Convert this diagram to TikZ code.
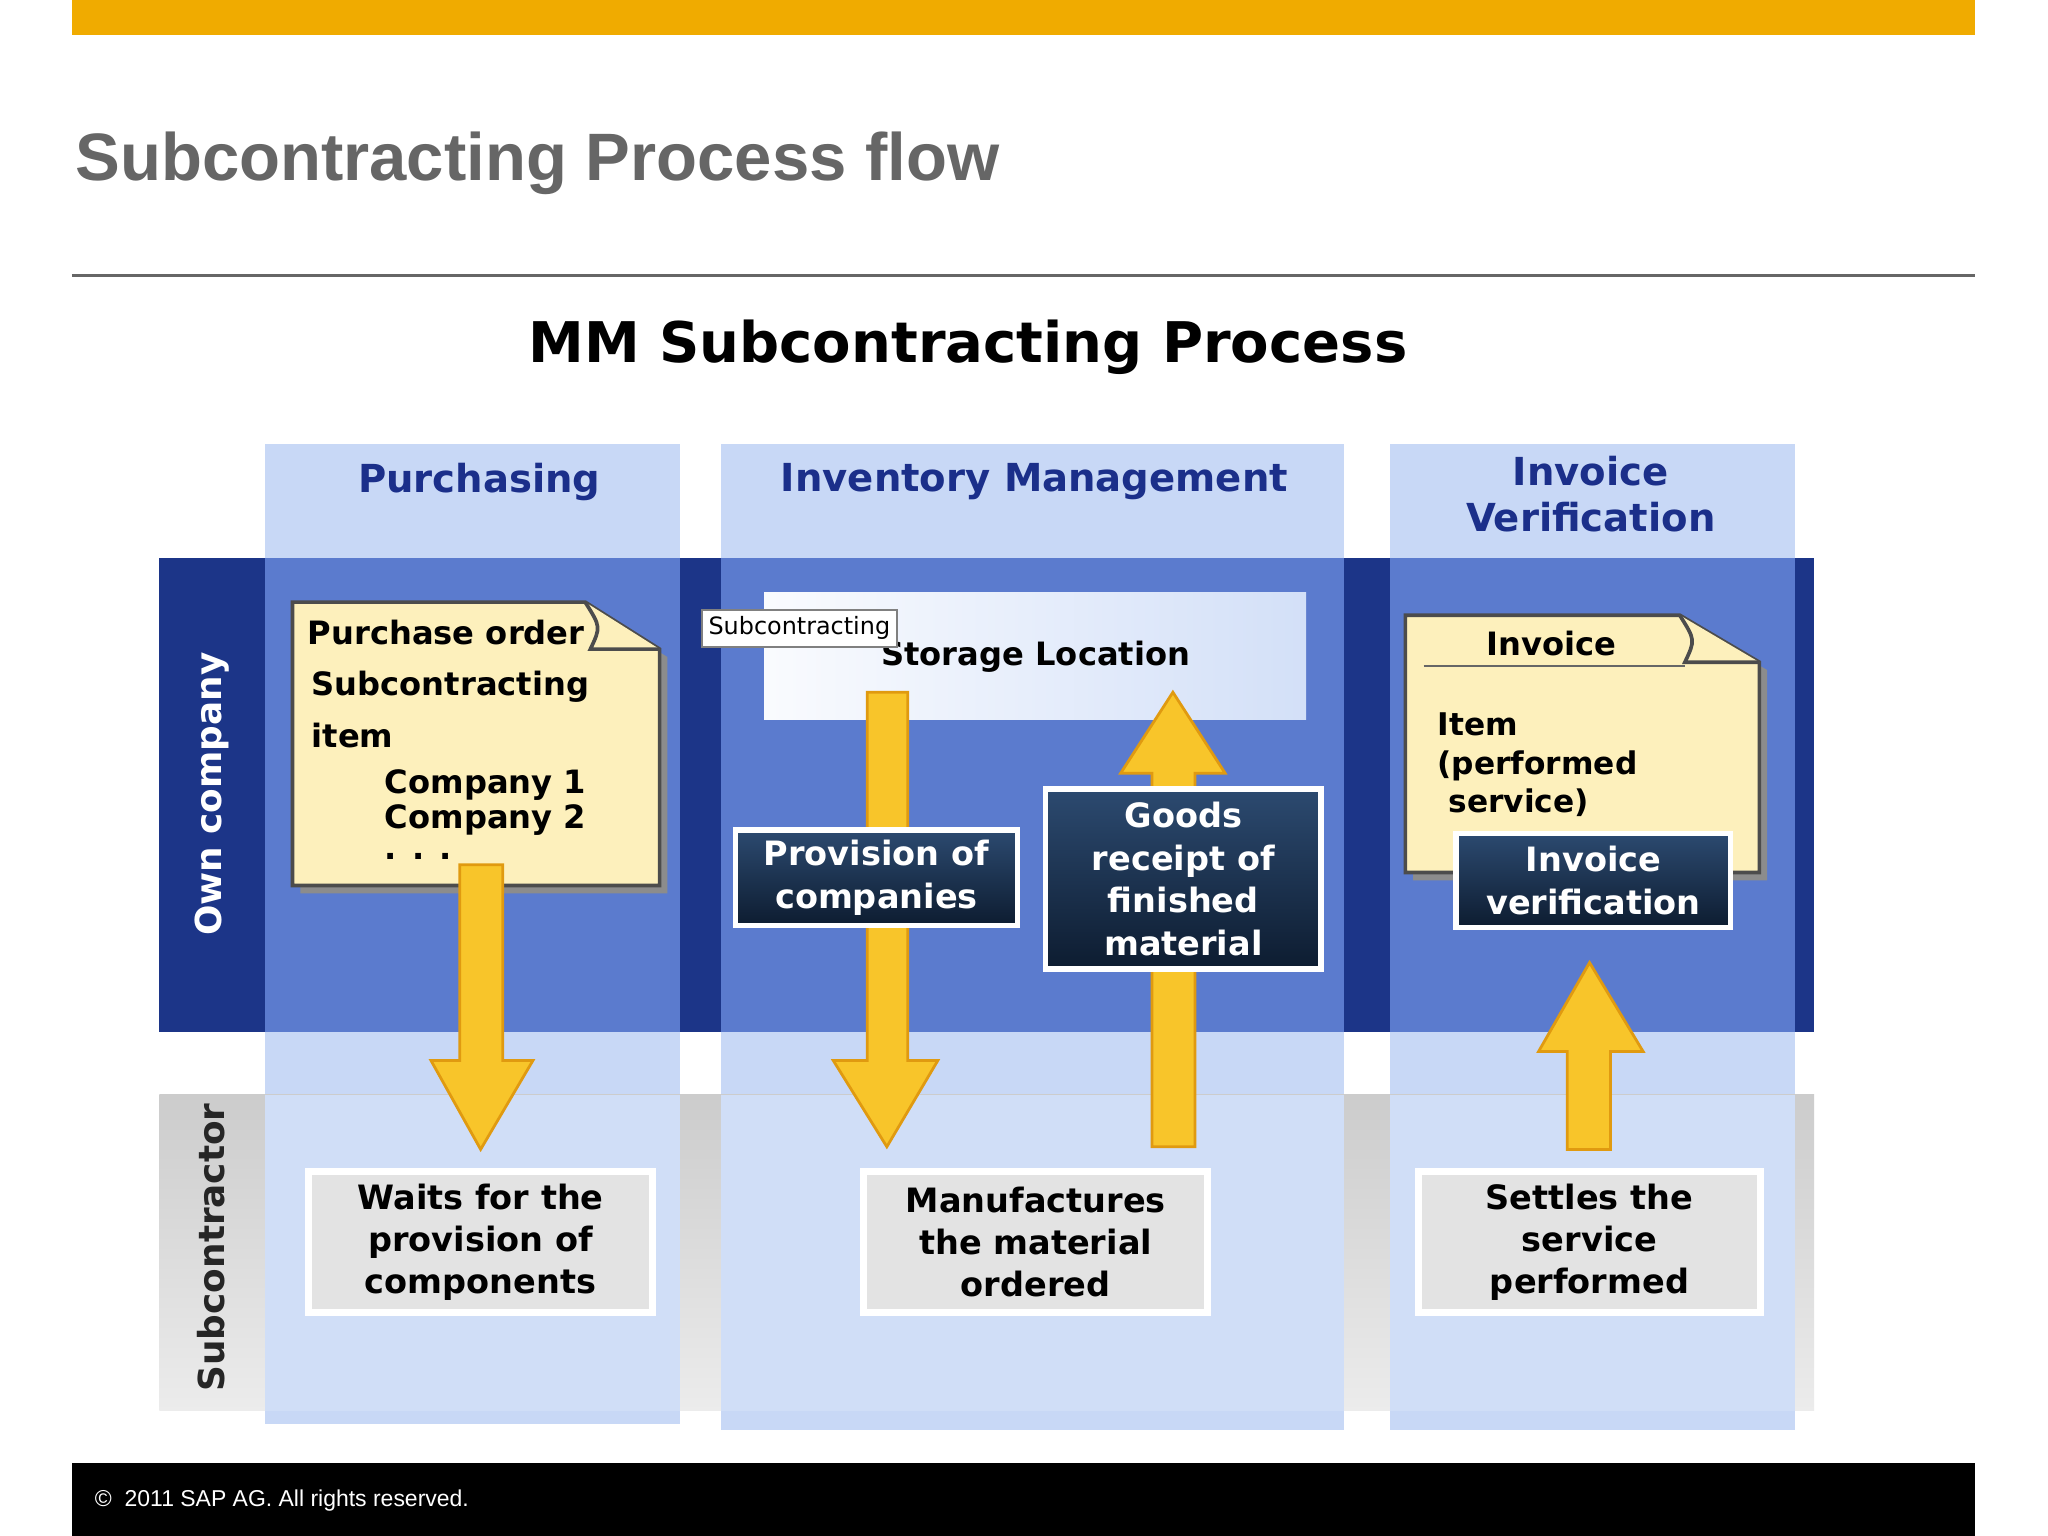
\documentclass[tikz,border=0pt]{standalone}
\usepackage{fontspec}
\setmainfont{Liberation Sans}
\newfontfamily\dv{DejaVu Sans}
\definecolor{sapor}{HTML}{F0AB00}
\definecolor{colbg}{HTML}{C8D8F6}
\definecolor{navy}{HTML}{1C3588}
\definecolor{midb}{HTML}{5B7BCE}
\definecolor{docy}{HTML}{FDF0BC}
\definecolor{arry}{HTML}{F8C52A}
\definecolor{arrb}{HTML}{E09A10}
\definecolor{dk1}{HTML}{2C4A70}
\definecolor{dk2}{HTML}{0D1C30}
\definecolor{hd}{HTML}{1B2F8A}
\begin{document}
\begin{tikzpicture}[x=0.01cm,y=-0.01cm,
  dark/.style={draw=white,line width=1.2pt,top color=dk1,bottom color=dk2,text=white,align=center,font=\dv\bfseries\fontsize{7.3}{9.3}\selectfont,inner sep=0pt},
  low/.style={draw=white,line width=1.5pt,fill=gray!22,align=center,font=\dv\bfseries\fontsize{7.3}{9.1}\selectfont,inner sep=0pt},
  head/.style={text=hd,align=center,font=\dv\bfseries\fontsize{8.4}{10}\selectfont},
  doc/.style={draw=black!70,line width=0.8pt,fill=docy},
  arr/.style={fill=arry,draw=arrb,line width=0.6pt}]
\useasboundingbox (0,0) rectangle (1568,1176);
\fill[white] (0,0) rectangle (1568,1176);
\fill[sapor] (55,0) rectangle (1512,27);
\node[anchor=west,inner sep=0pt,text=black!60,font=\bfseries\fontsize{14.6}{18}\selectfont] (title) at (57,125) {Subcontracting Process flow};
\draw[black!60,line width=0.6pt] (55,211) -- (1512,211);
\node[font=\dv\bfseries\fontsize{12.2}{15}\selectfont] (mm) at (741,266) {MM Subcontracting Process};
% columns
\fill[colbg] (203,340) rectangle (521,1090);
\fill[colbg] (552,340) rectangle (1029,1095);
\fill[colbg] (1064,340) rectangle (1374,1095);
% own company band
\fill[navy] (122,427) rectangle (1389,790);
\foreach \a/\b in {203/521,552/1029,1064/1374}{\fill[midb] (\a,427) rectangle (\b,790);}
% subcontractor band
\shade[top color=gray!40,bottom color=gray!15] (122,838) rectangle (1389,1080);
\foreach \a/\b in {203/521,552/1029,1064/1374}{\fill[colbg!85!white] (\a,838) rectangle (\b,1080);}
\node[rotate=90,text=white,font=\dv\bfseries\fontsize{7.8}{10}\selectfont] (own) at (162,608) {Own company};
\node[rotate=90,text=black!85,font=\dv\bfseries\fontsize{7.8}{10}\selectfont] (sub) at (162,955) {Subcontractor};
% headers
\node[head] (h1) at (367,369) {Purchasing};
\node[head] (h2) at (792,369) {Inventory Management};
\node[head] (h3) at (1218,378) {Invoice\\Verification};
% purchase order doc
\fill[black!45] (230,467) -- (452,467) -- (511,503) -- (511,684) -- (230,684) -- cycle;
\draw[doc] (224,461) -- (448,461) -- (505,497) -- (505,678) -- (224,678) -- cycle;
\draw[doc] (448,461) .. controls (460,480) .. (452,497) -- (505,497);
\begin{scope}[font=\dv\bfseries\fontsize{7}{9}\selectfont]
\node[anchor=west,inner sep=0pt] (po) at (235,484) {Purchase order};
\node[anchor=west,inner sep=0pt] (si) at (238,526) {Subcontracting};
\node[anchor=west,inner sep=0pt] (it) at (238,563) {item};
\node[anchor=west,inner sep=0pt] (c1) at (294,601) {Company 1};
\node[anchor=west,inner sep=0pt] (c2) at (294,628) {Company 2};
\node[anchor=west,inner sep=0pt] (dd) at (294,656) {. . .};
\end{scope}
% storage location
\shade[left color=white!90!colbg,right color=colbg!80!white] (585,454) rectangle (1000,551);
\node[font=\dv\bfseries\fontsize{7}{9}\selectfont] (sl) at (793,503) {Storage Location};
\node[draw=black!50,fill=white,font=\dv\fontsize{5.2}{6}\selectfont,inner sep=1.5pt] (sc) at (612,481) {Subcontracting};
% arrows
\draw[arr] (352,662) -- (385,662) -- (385,812) -- (408,812) -- (368,880) -- (330,812) -- (352,812) -- cycle;
\draw[arr] (664,530) -- (695,530) -- (695,812) -- (718,812) -- (679,878) -- (638,812) -- (664,812) -- cycle;
\draw[arr] (882,878) -- (915,878) -- (915,592) -- (938,592) -- (898,530) -- (858,592) -- (882,592) -- cycle;
\draw[arr] (1200,880) -- (1233,880) -- (1233,805) -- (1258,805) -- (1217,737) -- (1178,805) -- (1200,805) -- cycle;
% invoice doc
\fill[black!45] (1082,477) -- (1292,477) -- (1353,513) -- (1353,674) -- (1082,674) -- cycle;
\draw[doc] (1076,471) -- (1286,471) -- (1347,507) -- (1347,668) -- (1076,668) -- cycle;
\draw[doc] (1286,471) .. controls (1298,490) .. (1290,507) -- (1347,507);
\draw[black!60] (1090,510) -- (1290,510);
\node[font=\dv\bfseries\fontsize{7}{9}\selectfont] (inv) at (1188,493) {Invoice};
\node[anchor=north west,inner sep=0pt,align=left,font=\dv\bfseries\fontsize{6.8}{8.4}\selectfont] (itm) at (1100,545) {Item\\(performed\\\ service)};
% dark boxes
\node[dark,minimum width=2.16cm,minimum height=0.73cm] (pc) at (671,672) {Provision of\\companies};
\node[dark,minimum width=2.11cm,minimum height=1.38cm] (gr) at (906,673) {Goods\\receipt of\\finished\\material};
\node[dark,minimum width=2.10cm,minimum height=0.72cm] (iv) at (1220,674) {Invoice\\verification};
% low boxes
\node[low,minimum width=2.63cm,minimum height=1.08cm] (w) at (368,951) {Waits for the\\provision of\\components};
\node[low,minimum width=2.63cm,minimum height=1.08cm] (m) at (793,951) {Manufactures\\the material\\ordered};
\node[low,minimum width=2.62cm,minimum height=1.08cm] (s) at (1217,951) {Settles the\\service\\performed};
% footer
\fill[black] (55,1120) rectangle (1512,1176);
\node[anchor=west,inner sep=0pt,text=white,font=\fontsize{5}{6}\selectfont] (ft) at (72,1149) {©\ \ 2011 SAP AG. All rights reserved.};
\end{tikzpicture}
\end{document}
